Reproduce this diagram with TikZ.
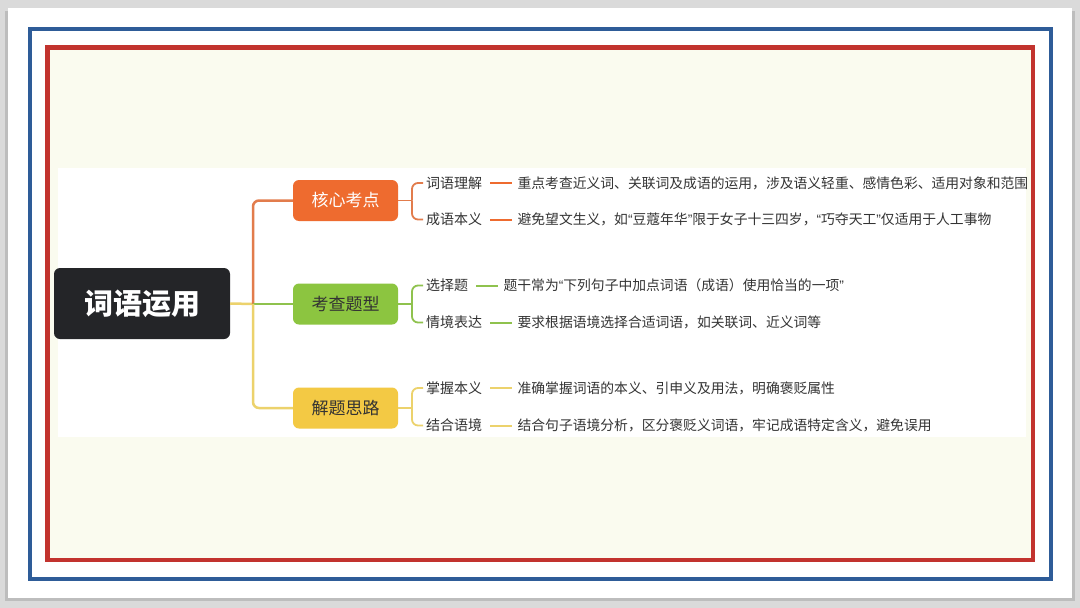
\documentclass[tikz,border=0pt]{standalone}
\usepackage{fontspec}
\setmainfont{Noto Sans CJK SC}
\newfontfamily\latinq{Liberation Sans}
\newcommand{\myoq}{{\latinq “}}
\newcommand{\mycq}{{\latinq ”}}
\definecolor{bggray}{HTML}{DADADA}
\definecolor{shadowgray}{HTML}{BDBDBD}
\definecolor{framblue}{HTML}{2E5C98}
\definecolor{framred}{HTML}{C2332E}
\definecolor{cream}{HTML}{FAFBEF}
\definecolor{rootfill}{HTML}{242528}
\definecolor{corange}{HTML}{EE6B2F}
\definecolor{cgreen}{HTML}{8CC540}
\definecolor{cyellow}{HTML}{F3C944}
\definecolor{lorange}{HTML}{E27C4C}
\definecolor{lgreen}{HTML}{8FC24E}
\definecolor{lyellow}{HTML}{ECD26C}
\definecolor{txt}{HTML}{333333}
\begin{document}
\begin{tikzpicture}[x=1pt,y=-1pt,
  rootbox/.style={draw=none,fill=rootfill,rounded corners=6pt,minimum width=176pt,minimum height=71pt,
    text=white,font=\fontsize{29}{32}\selectfont\bfseries,inner sep=0pt},
  branchbox/.style={draw=none,rounded corners=6pt,minimum width=105pt,minimum height=41pt,
    font=\fontsize{17}{20}\selectfont,inner sep=0pt},
  labeltext/.style={anchor=west,inner xsep=3pt,inner ysep=1pt,text=txt,font=\fontsize{14}{16}\selectfont},
  desctext/.style={anchor=west,inner xsep=5pt,inner ysep=1pt,text=txt,font=\fontsize{13.8}{16}\selectfont},
  trunkline/.style={line width=2.5pt,rounded corners=6pt},
  brackline/.style={line width=1.8pt,rounded corners=6pt},
  dashline/.style={line width=2pt}
]
\useasboundingbox (0,0) rectangle (1080,608);
% background and frames
\fill[bggray] (0,0) rectangle (1080,608);
\fill[shadowgray] (5,11) rectangle (1075,601);
\fill[white] (8,8) rectangle (1072,598);
\draw[framblue,line width=4pt] (30,29) rectangle (1051,579);
\fill[cream] (48,48) rectangle (1033,560);
\fill[white] (58,168) rectangle (1026,437);
\draw[framred,line width=4.5pt] (47.5,47.5) rectangle (1033,560);

% root and branches
\node[rootbox] (root) at (142,303.5) {词语运用};
\node[branchbox,fill=corange,text=white] (b1) at (345.5,200.5) {核心考点};
\node[branchbox,fill=cgreen,text=txt] (b2) at (345.5,304) {考查题型};
\node[branchbox,fill=cyellow,text=txt] (b3) at (345.5,408) {解题思路};
\coordinate (trunk) at (253,304);

\draw[trunkline,lyellow] (root.east) -- (trunk);
\draw[trunkline,lorange] (trunk) |- (b1.west);
\draw[trunkline,lgreen] (trunk) -- (b2.west);
\draw[trunkline,lyellow] (trunk) |- (b3.west);

% sub items
\node[labeltext] (s11) at (423,183) {词语理解};
\node[labeltext] (s12) at (423,219.5) {成语本义};
\node[labeltext] (s21) at (423,285.5) {选择题};
\node[labeltext] (s22) at (423,322.5) {情境表达};
\node[labeltext] (s31) at (423,388) {掌握本义};
\node[labeltext] (s32) at (423,425.5) {结合语境};

\node[desctext] (d11) at ([xshift=27pt]s11.east) {重点考查近义词、关联词及成语的运用，涉及语义轻重、感情色彩、适用对象和范围};
\node[desctext] (d12) at ([xshift=27pt]s12.east) {避免望文生义，如\myoq 豆蔻年华\mycq 限于女子十三四岁，\myoq 巧夺天工\mycq 仅适用于人工事物};
\node[desctext] (d21) at ([xshift=27pt]s21.east) {题干常为\myoq 下列句子中加点词语（成语）使用恰当的一项\mycq};
\node[desctext] (d22) at ([xshift=27pt]s22.east) {要求根据语境选择合适词语，如关联词、近义词等};
\node[desctext] (d31) at ([xshift=27pt]s31.east) {准确掌握词语的本义、引申义及用法，明确褒贬属性};
\node[desctext] (d32) at ([xshift=27pt]s32.east) {结合句子语境分析，区分褒贬义词语，牢记成语特定含义，避免误用};

% brackets
\coordinate (j1) at (412,200.5);
\coordinate (j2) at (412,304);
\coordinate (j3) at (412,408);
\draw[brackline,lorange] (b1.east) -- (j1);
\draw[brackline,lorange] (j1) |- (s11.west);
\draw[brackline,lorange] (j1) |- (s12.west);
\draw[brackline,lgreen] (b2.east) -- (j2);
\draw[brackline,lgreen] (j2) |- (s21.west);
\draw[brackline,lgreen] (j2) |- (s22.west);
\draw[brackline,lyellow] (b3.east) -- (j3);
\draw[brackline,lyellow] (j3) |- (s31.west);
\draw[brackline,lyellow] (j3) |- (s32.west);

% dashes
\draw[dashline,corange] ([xshift=5pt]s11.east) -- (d11.west);
\draw[dashline,corange] ([xshift=5pt]s12.east) -- (d12.west);
\draw[dashline,lgreen] ([xshift=5pt]s21.east) -- (d21.west);
\draw[dashline,lgreen] ([xshift=5pt]s22.east) -- (d22.west);
\draw[dashline,lyellow] ([xshift=5pt]s31.east) -- (d31.west);
\draw[dashline,lyellow] ([xshift=5pt]s32.east) -- (d32.west);
\end{tikzpicture}
\end{document}
